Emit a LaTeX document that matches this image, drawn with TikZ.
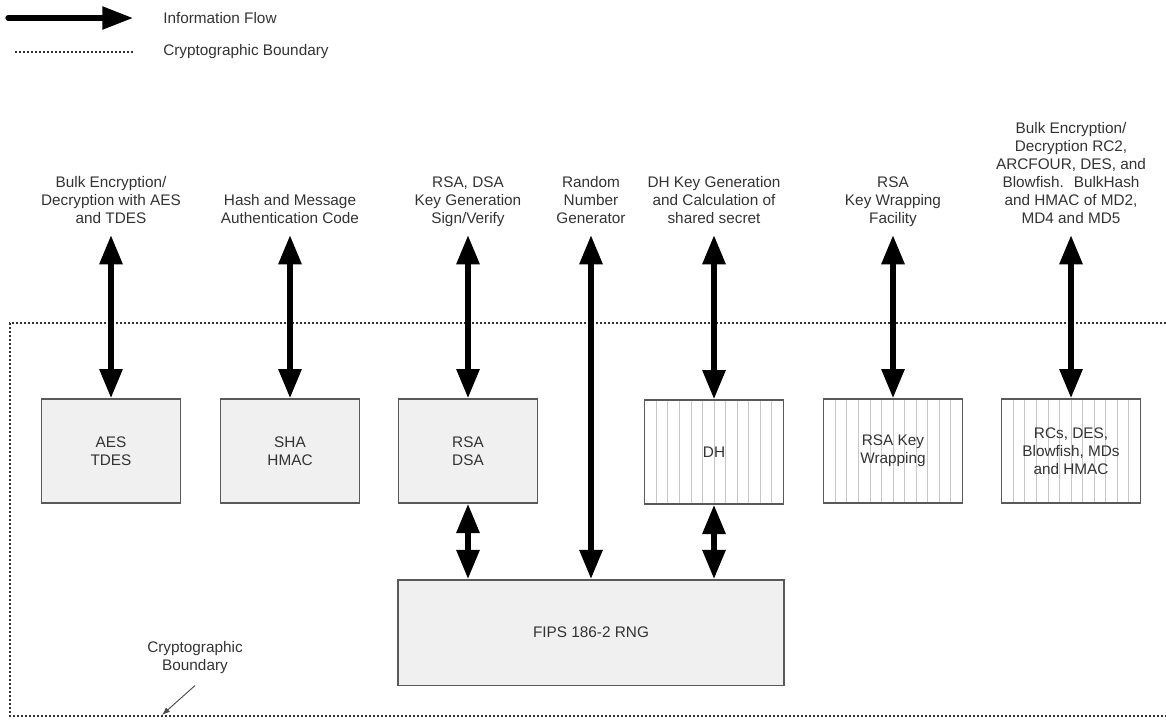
\documentclass[tikz,border=0pt]{standalone}
\usepackage{fontspec}
\setmainfont{Liberation Sans}
\usetikzlibrary{arrows.meta,calc}

\begin{document}
\begin{tikzpicture}[x=0.75pt, y=-0.75pt,
    every node/.style={text=black!80, font=\fontsize{11.5}{13.5}\selectfont, align=center},
    block/.style={draw=black!65, line width=1pt, fill=black!6, minimum width=104pt, minimum height=78pt, inner sep=0pt},
    hatched/.style={block, fill=white, path picture={
        \foreach \i in {1,...,11} {
          \draw[black!22, line width=0.5pt]
            ($(path picture bounding box.north west)!\i/12!(path picture bounding box.north east)$) --
            ($(path picture bounding box.south west)!\i/12!(path picture bounding box.south east)$);
        }}},
    flow/.style={line width=4.5pt, {Triangle[length=22pt, width=16.5pt]}-{Triangle[length=22pt, width=16.5pt]}},
    legendflow/.style={line width=4pt, line cap=round, -{Triangle[length=23pt, width=16.5pt]}},
    boundary/.style={line width=1.3pt, black!80, dash pattern=on 1.3pt off 1.7pt},
    lbl/.style={anchor=south, inner sep=0pt, execute at end node=\strut},
    leader/.style={black!70, line width=0.7pt, -{Latex[length=6pt, width=4.5pt]}}]
    \useasboundingbox (0,0) rectangle (1166,719);

    % legend
    \coordinate (flowA) at (8,18);
    \coordinate (flowB) at (133,18);
    \coordinate (bndA) at (15,52);
    \coordinate (bndB) at (133,52);
    \draw[legendflow] (flowA) -- (flowB);
    \draw[boundary, line width=1pt] (bndA) -- (bndB);
    \node[anchor=west, inner sep=0pt] (flowlbl) at (163,18) {Information Flow};
    \node[anchor=west, inner sep=0pt] (bndlbl) at (163,52) {Cryptographic Boundary};

    % cryptographic boundary
    \draw[boundary] (1166,323) -- (10,323) -- (10,716) -- (1166,716);

    % algorithm boxes
    \node[block] (AES) at (111,451) {AES\\TDES};
    \node[block] (SHA) at (290,451) {SHA\\HMAC};
    \node[block] (RSA) at (468,451) {RSA\\DSA};
    \node[hatched] (DH) at (714,452) {DH};
    \node[hatched] (RSAKW) at (893,451) {RSA Key\\Wrapping};
    \node[hatched] (RC) at (1071,451) {RCs, DES,\\Blowfish, MDs\\and HMAC};
    \node[block, minimum width=289.5pt, minimum height=79pt] (RNG) at (591,632.5) {FIPS 186-2 RNG};

    % services
    \node[lbl] (AESlbl) at (111,229) {Bulk Encryption/\\Decryption with AES\\and TDES};
    \node[lbl] (SHAlbl) at (290,229) {Hash and Message\\Authentication Code};
    \node[lbl] (RSAlbl) at (468,229) {RSA, DSA\\Key Generation\\Sign/Verify};
    \node[lbl] (RNGlbl) at (591,229) {Random\\Number\\Generator};
    \node[lbl] (DHlbl) at (714,229) {DH Key Generation\\and Calculation of\\shared secret};
    \node[lbl] (RSAKWlbl) at (893,229) {RSA\\Key Wrapping\\Facility};
    \node[lbl] (RClbl) at (1071,229) {Bulk Encryption/\\Decryption RC2,\\ARCFOUR, DES, and\\Blowfish.~ BulkHash\\and HMAC of MD2,\\MD4 and MD5};

    \coordinate (AESin) at (111,235);
    \coordinate (SHAin) at (290,235);
    \coordinate (RSAin) at (468,235);
    \coordinate (RNGin) at (591,235);
    \coordinate (DHin) at (714,235);
    \coordinate (RSAKWin) at (893,235);
    \coordinate (RCin) at (1071,235);

    \draw[flow] (AESin) -- (AES.north);
    \draw[flow] (SHAin) -- (SHA.north);
    \draw[flow] (RSAin) -- (RSA.north);
    \draw[flow] (RNGin) -- (RNG.north);
    \draw[flow] (DHin) -- (DH.north);
    \draw[flow] (RSAKWin) -- (RSAKW.north);
    \draw[flow] (RCin) -- (RC.north);

    \draw[flow] (RSA.south) -- (RSA.south |- RNG.north);
    \draw[flow] (DH.south) -- (DH.south |- RNG.north);

    % boundary callout
    \node (cblbl) at (195,658) {Cryptographic\\Boundary};
    \coordinate (cbpt) at (162,715);
    \draw[leader] ([yshift=-5pt]cblbl.south) -- (cbpt);
\end{tikzpicture}
\end{document}
